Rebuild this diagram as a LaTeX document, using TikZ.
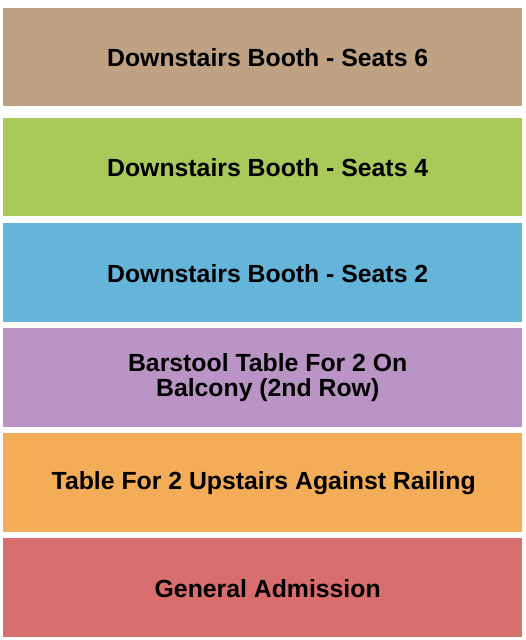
\documentclass[tikz,border=0pt]{standalone}
\usepackage{fontspec}
\setmainfont{Liberation Sans}
\definecolor{cbrown}{HTML}{BFA183}
\definecolor{cgreen}{HTML}{A9CA5A}
\definecolor{cblue}{HTML}{65B5DB}
\definecolor{cpurple}{HTML}{B994C5}
\definecolor{corange}{HTML}{F3AD58}
\definecolor{cred}{HTML}{D86E6E}
\begin{document}
\begin{tikzpicture}[x=1pt,y=-1pt,
  sect/.style={draw=none,minimum width=519pt,inner sep=0pt,anchor=north west},
  lbl/.style={inner sep=0pt,font=\bfseries\fontsize{24.8}{24.5}\selectfont,align=center,text=black}]
\useasboundingbox[fill=white] (0,0) rectangle (525,640);
\node[sect,fill=cbrown,minimum height=98pt] (s6) at (3,8) {};
\node[sect,fill=cgreen,minimum height=98pt] (s4) at (3,118) {};
\node[sect,fill=cblue,minimum height=99pt] (s2) at (3,223) {};
\node[sect,fill=cpurple,minimum height=99pt] (bal) at (3,328) {};
\node[sect,fill=corange,minimum height=99pt] (rail) at (3,433) {};
\node[sect,fill=cred,minimum height=99pt] (ga) at (3,538) {};
\node[lbl] (t6) at ([xshift=5pt,yshift=-0.5pt]s6.center) {Downstairs Booth - Seats 6};
\node[lbl] (t4) at ([xshift=5pt,yshift=-0.5pt]s4.center) {Downstairs Booth - Seats 4};
\node[lbl] (t2) at ([xshift=5pt,yshift=-0.5pt]s2.center) {Downstairs Booth - Seats 2};
\node[lbl] (tbal) at ([xshift=5pt]bal.center) {Barstool Table For 2 On\\Balcony (2nd Row)};
\node[lbl] (trail) at ([xshift=1pt,yshift=-0.5pt]rail.center) {Table For 2 Upstairs Against Railing};
\node[lbl] (tga) at ([xshift=5pt,yshift=-0.5pt]ga.center) {General Admission};
\end{tikzpicture}
\end{document}
